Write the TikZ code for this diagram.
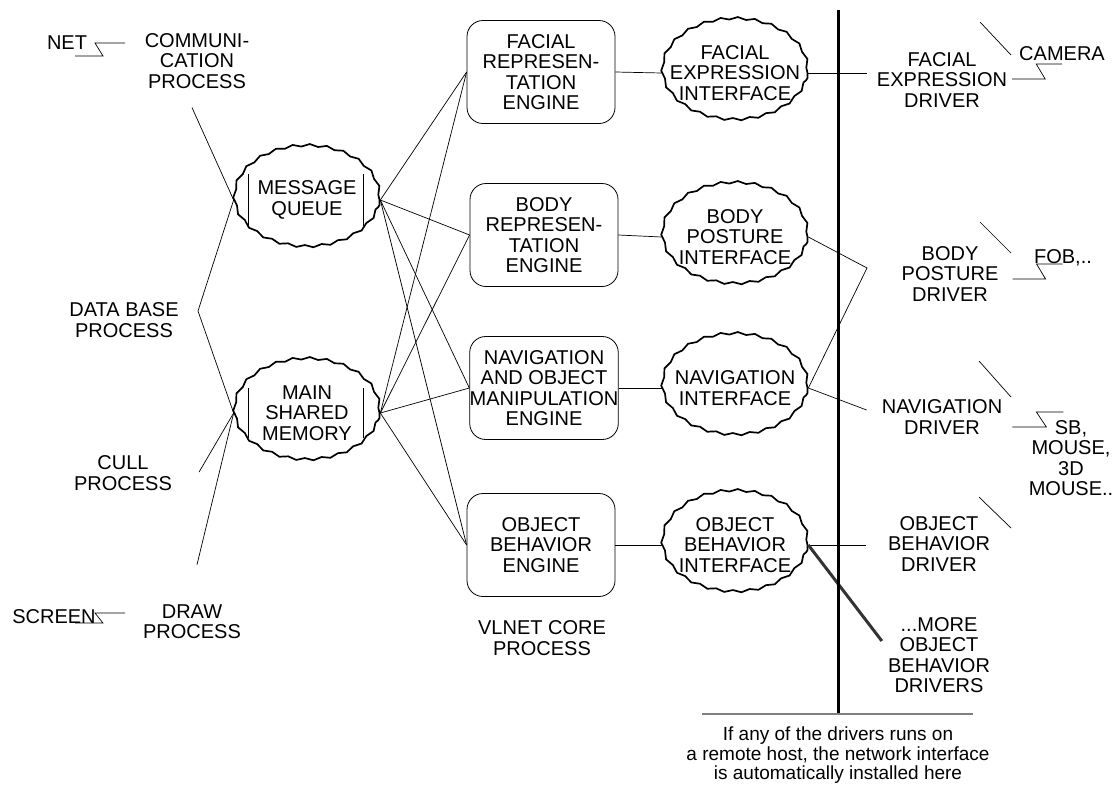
\documentclass[tikz,border=0pt]{standalone}
\usepackage{fontspec}
\setmainfont{Liberation Sans}
\usetikzlibrary{shapes.geometric,decorations.pathmorphing}

\tikzset{
  texte/.style={align=center, inner sep=1pt, font=\fontsize{20}{20.3}\selectfont},
  moteur/.style={texte, draw, line width=0.8pt, rounded corners=16pt,
    minimum width=148pt, minimum height=103pt, inner sep=0pt},
  interface/.style={texte, ellipse, draw, line width=1.7pt, decorate,
    decoration={snake, amplitude=1.2pt, segment length=17pt},
    minimum width=145pt, minimum height=101pt, inner sep=-20pt},
  lien/.style={line width=0.7pt},
}

\begin{document}
\begin{tikzpicture}[x=1pt, y=-1pt]
      \useasboundingbox (0,0) rectangle (1117,785);

      % processus de gauche
      \node[texte] (net) at (67,43) {NET};
      \node[texte] (comm) at (197,61) {COMMUNI-\\CATION\\PROCESS};
      \node[texte] (dbase) at (124,320) {DATA BASE\\PROCESS};
      \node[texte] (cull) at (123,473) {CULL\\PROCESS};
      \node[texte] (drawproc) at (192,622) {DRAW\\PROCESS};
      \node[texte] (screen) at (54,617) {SCREEN};

      % memoires
      \node[interface] (mq) at (307,200) {MESSAGE\\QUEUE};
      \node[interface] (msm) at (307,413) {MAIN\\SHARED\\MEMORY};
      \draw[lien] ([shift={(-59,-26)}]mq.center) -- ++(0,52);
      \draw[lien] ([shift={(56,-26)}]mq.center) -- ++(0,52);
      \draw[lien] ([shift={(-59,-25)}]msm.center) -- ++(0,50);
      \draw[lien] ([shift={(56,-25)}]msm.center) -- ++(0,50);

      % moteurs du coeur
      \node[moteur] (fe) at (541,72) {FACIAL\\REPRESEN-\\TATION\\ENGINE};
      \node[moteur] (be) at (544,235) {BODY\\REPRESEN-\\TATION\\ENGINE};
      \node[moteur] (ne) at (544,388) {NAVIGATION\\AND OBJECT\\MANIPULATION\\ENGINE};
      \node[moteur] (oe) at (541,545) {OBJECT\\BEHAVIOR\\ENGINE};
      \node[texte] (core) at (542,638) {VLNET CORE\\PROCESS};

      % interfaces
      \node[interface] (fi) at (735,73) {FACIAL\\EXPRESSION\\INTERFACE};
      \node[interface] (bi) at (735,237) {BODY\\POSTURE\\INTERFACE};
      \node[interface] (ni) at (735,388) {NAVIGATION\\INTERFACE};
      \node[interface] (oi) at (735,545) {OBJECT\\BEHAVIOR\\INTERFACE};

      % pilotes et peripheriques
      \node[texte] (fdrv) at (942,80) {FACIAL\\EXPRESSION\\DRIVER};
      \node[texte] (camera) at (1062,54) {CAMERA};
      \node[texte] (bdrv) at (950,274) {BODY\\POSTURE\\DRIVER};
      \node[texte, anchor=base] (fob) at (1063,263) {FOB,..};
      \node[texte] (ndrv) at (942,417) {NAVIGATION\\DRIVER};
      \node[texte] (sb) at (1071,458) {SB,\\MOUSE,\\3D\\MOUSE..};
      \node[texte] (odrv) at (939,544) {OBJECT\\BEHAVIOR\\DRIVER};
      \node[texte] (mdrv) at (939,655) {...MORE\\OBJECT\\BEHAVIOR\\DRIVERS};

      % liens des processus
      \coordinate (dbk) at (198,311);
      \draw[lien] ([shift={(-5,18)}]comm.south) -- (mq.west);
      \draw[lien] (mq.west) -- (dbk) -- (msm.west);
      \draw[lien] ([shift={(26,-1)}]cull.east) -- (msm.west);
      \draw[lien] ([shift={(5,-39)}]drawproc.north) -- (msm.west);
      \draw[lien] ([shift={(58,0)}]net.center) -- ++(-30,0) -- ++(8,13) -- ++(-28,0);
      \draw[lien] ([shift={(71,-4)}]screen.center) -- ++(-30,0) -- ++(8,10) -- ++(-28,0);

      % memoires vers moteurs
      \draw[lien] (mq.east) -- (fe.west);
      \draw[lien] (mq.east) -- (be.west);
      \draw[lien] (mq.east) -- (ne.west);
      \draw[lien] (mq.east) -- (oe.west);
      \draw[lien] (msm.east) -- (fe.west);
      \draw[lien] (msm.east) -- (be.west);
      \draw[lien] (msm.east) -- (ne.west);
      \draw[lien] (msm.east) -- (oe.west);

      % moteurs vers interfaces
      \draw[lien] (fe.east) -- (fi.west);
      \draw[lien] (be.east) -- (bi.west);
      \draw[lien] (ne.east) -- (ni.west);
      \draw[lien] (oe.east) -- (oi.west);

      % interfaces vers pilotes
      \coordinate (bk) at (867,268);
      \draw[lien, shorten >=9pt] (fi.east) -- (fi.east -| fdrv.west);
      \draw[lien] (bi.east) -- (bk) -- (ni.east);
      \draw[lien] (ni.east) -- ([shift={(-14,-7)}]ndrv.west);
      \draw[lien, shorten >=21pt] (oi.east) -- (oi.east -| odrv.west);
      \draw[line width=3pt, black!80] (oi.east) -- ([shift={(-5,-14)}]mdrv.west);

      % pilotes vers peripheriques
      \draw[lien] (980,22) -- (1011,55);
      \draw[lien] (980,222) -- (1011,253);
      \draw[lien] (979,361) -- (1011,397);
      \draw[lien] (979,497) -- (1011,528);
      \draw[lien] ([shift={(4,-1)}]fdrv.east) -- ++(33,0) -- ++(-9,-15) -- ++(26,0);
      \draw[lien] ([shift={(13,5)}]bdrv.east) -- ++(33,0) -- ++(-9,-15) -- ++(26,0);
      \draw[lien] ([shift={(9,10)}]ndrv.east) -- ++(34,0) -- ++(-10,-15) -- ++(27,0);

      % frontiere reseau
      \draw[line width=3pt] (838,10) -- (838,714);
      \draw[line width=1.4pt, gray] (702,714) -- (973,714);
      \node[texte, anchor=north, font=\fontsize{19}{19.5}\selectfont] (note) at (838,726)
        {If any of the drivers runs on\\a remote host, the network interface\\is automatically installed here};
\end{tikzpicture}
\end{document}
